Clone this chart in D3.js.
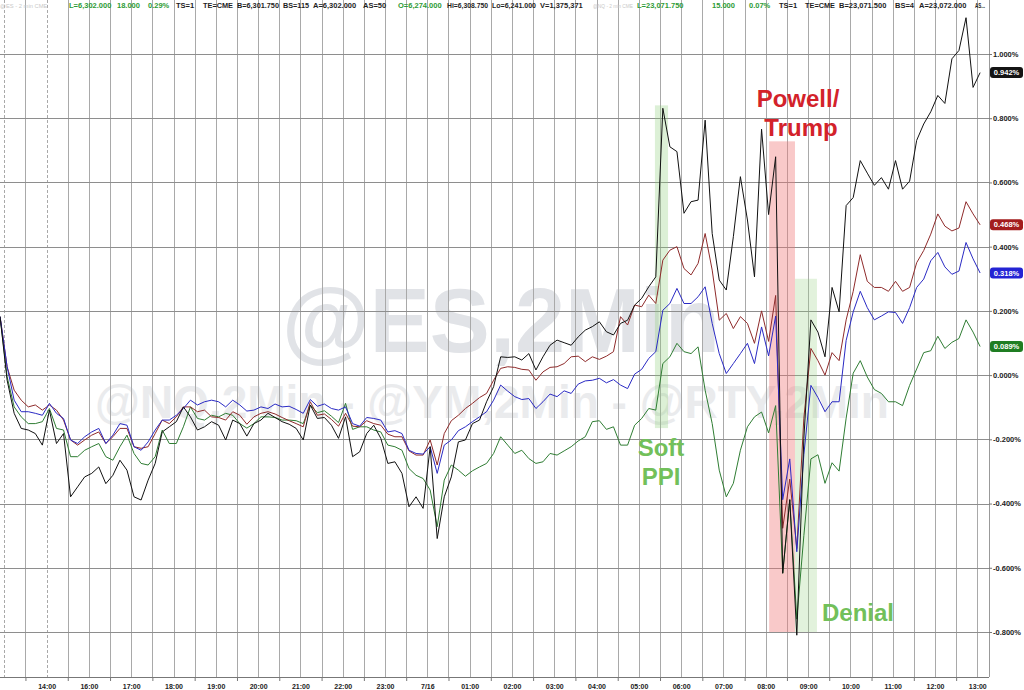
<!DOCTYPE html>
<html><head><meta charset="utf-8">
<script src="https://cdn.jsdelivr.net/npm/d3@7"></script>
<style>
html,body{margin:0;padding:0;background:#fff;}
svg{display:block;font-family:"Liberation Sans",Arial,sans-serif;}
</style></head><body>
<svg id="chart" width="1024" height="690"></svg>
<script>
// ---------- data ----------
const hourLabels = ["14:00","16:00","17:00","18:00","19:00","20:00","21:00","22:00","23:00","7/16",
  "01:00","02:00","03:00","04:00","05:00","06:00","07:00","08:00","09:00","10:00","11:00","12:00","13:00"];
// bar times, in hour-slots after 14:00 (10-minute samples)
const barCount = 140;
const barTimes = d3.range(barCount).map(i => -1.1 + i / 6);

const nqSeries = [0.182,-0.016,-0.119,-0.166,-0.171,-0.182,-0.218,-0.109,-0.213,-0.182,
 -0.379,-0.348,-0.317,-0.306,-0.286,-0.338,-0.312,-0.265,-0.296,-0.379,
 -0.389,-0.327,-0.275,-0.177,-0.161,-0.145,-0.099,-0.130,-0.171,-0.161,
 -0.145,-0.156,-0.202,-0.140,-0.151,-0.190,-0.151,-0.140,-0.119,-0.132,
 -0.145,-0.153,-0.166,-0.202,-0.093,-0.135,-0.132,-0.156,-0.197,-0.130,
 -0.254,-0.239,-0.182,-0.156,-0.197,-0.275,-0.270,-0.306,-0.410,-0.379,
 -0.415,-0.223,-0.509,-0.379,-0.317,-0.208,-0.202,-0.151,-0.140,-0.083,
 -0.036,0.057,0.055,0.057,0.047,0.067,0.016,0.057,0.093,0.109,
 0.101,0.093,0.119,0.140,0.151,0.166,0.135,0.125,0.161,0.171,
 0.218,0.239,0.275,0.306,0.831,0.711,0.696,0.504,0.540,0.545,
 0.794,0.441,0.296,0.265,0.431,0.618,0.483,0.306,0.766,0.500,
 0.680,-0.617,-0.388,-0.810,-0.197,0.172,0.134,0.057,0.273,0.197,
 0.528,0.553,0.668,0.629,0.591,0.615,0.579,0.668,0.579,0.604,
 0.731,0.782,0.820,0.871,0.846,0.985,1.011,1.113,0.896,0.942];

const esSeries = [0.182,0.026,-0.047,-0.078,-0.099,-0.093,-0.109,-0.093,-0.109,-0.140,
 -0.202,-0.218,-0.202,-0.187,-0.177,-0.213,-0.192,-0.166,-0.166,-0.223,
 -0.228,-0.223,-0.182,-0.140,-0.151,-0.130,-0.099,-0.099,-0.114,-0.109,
 -0.130,-0.132,-0.140,-0.114,-0.125,-0.153,-0.130,-0.119,-0.114,-0.121,
 -0.132,-0.142,-0.151,-0.161,-0.083,-0.125,-0.121,-0.138,-0.159,-0.119,
 -0.159,-0.161,-0.142,-0.151,-0.156,-0.184,-0.192,-0.192,-0.236,-0.249,
 -0.249,-0.202,-0.280,-0.182,-0.142,-0.125,-0.104,-0.088,-0.070,-0.057,
 -0.016,0.021,0.026,0.024,0.018,0.016,-0.016,0.010,0.024,0.026,
 0.036,0.057,0.059,0.042,0.057,0.049,0.059,0.073,0.182,0.156,
 0.218,0.213,0.249,0.223,0.358,0.389,0.400,0.332,0.312,0.348,
 0.441,0.327,0.171,0.192,0.145,0.182,0.161,0.099,0.200,0.105,
 0.248,-0.477,-0.324,-0.540,-0.134,0.083,0.045,0.000,0.070,0.045,
 0.172,0.261,0.375,0.292,0.273,0.273,0.261,0.292,0.261,0.273,
 0.350,0.388,0.439,0.502,0.464,0.449,0.458,0.540,0.502,0.468];

const ymSeries = [0.182,0.026,-0.078,-0.114,-0.114,-0.119,-0.125,-0.088,-0.119,-0.135,
 -0.202,-0.213,-0.192,-0.177,-0.166,-0.213,-0.187,-0.151,-0.156,-0.223,
 -0.234,-0.208,-0.171,-0.140,-0.140,-0.125,-0.104,-0.078,-0.093,-0.083,
 -0.078,-0.083,-0.099,-0.078,-0.093,-0.112,-0.109,-0.099,-0.104,-0.090,
 -0.099,-0.097,-0.107,-0.119,-0.076,-0.097,-0.090,-0.104,-0.109,-0.099,
 -0.151,-0.159,-0.132,-0.135,-0.140,-0.177,-0.173,-0.182,-0.234,-0.244,
 -0.246,-0.223,-0.306,-0.218,-0.202,-0.173,-0.161,-0.145,-0.130,-0.114,
 -0.078,-0.031,-0.050,-0.067,-0.076,-0.073,-0.104,-0.083,-0.059,-0.067,
 -0.049,-0.057,-0.028,-0.018,-0.016,-0.010,-0.024,-0.014,-0.031,-0.042,
 0.003,0.018,0.052,0.073,0.202,0.223,0.270,0.223,0.223,0.244,
 0.275,0.161,0.067,0.005,0.036,0.067,0.099,0.036,0.150,0.060,
 0.184,-0.388,-0.261,-0.550,-0.248,-0.032,-0.070,-0.114,-0.083,-0.083,
 0.108,0.197,0.261,0.210,0.172,0.184,0.197,0.195,0.161,0.210,
 0.273,0.299,0.356,0.382,0.337,0.314,0.324,0.413,0.362,0.318];

const rtySeries = [0.182,-0.005,-0.099,-0.130,-0.151,-0.151,-0.145,-0.104,-0.166,-0.171,
 -0.254,-0.254,-0.234,-0.223,-0.213,-0.254,-0.265,-0.223,-0.187,-0.244,
 -0.275,-0.280,-0.254,-0.171,-0.213,-0.213,-0.161,-0.099,-0.135,-0.140,
 -0.125,-0.130,-0.119,-0.125,-0.151,-0.165,-0.151,-0.130,-0.130,-0.132,
 -0.140,-0.140,-0.142,-0.151,-0.093,-0.117,-0.111,-0.128,-0.148,-0.088,
 -0.169,-0.161,-0.161,-0.171,-0.177,-0.218,-0.223,-0.234,-0.291,-0.312,
 -0.322,-0.358,-0.472,-0.327,-0.280,-0.296,-0.315,-0.298,-0.286,-0.275,
 -0.244,-0.192,-0.218,-0.244,-0.234,-0.260,-0.275,-0.270,-0.244,-0.249,
 -0.236,-0.223,-0.205,-0.192,-0.145,-0.142,-0.169,-0.161,-0.218,-0.218,
 -0.156,-0.135,-0.104,-0.109,0.036,0.057,0.099,0.073,0.067,0.088,
 -0.047,-0.151,-0.296,-0.379,-0.337,-0.234,-0.161,-0.130,-0.115,-0.180,
 -0.095,-0.617,-0.388,-0.760,-0.500,-0.261,-0.248,-0.337,-0.273,-0.299,
 -0.134,0.006,0.045,-0.006,-0.045,-0.057,-0.083,-0.083,-0.095,-0.032,
 0.019,0.070,0.076,0.121,0.083,0.102,0.114,0.172,0.134,0.089];

const yTickValues = [-0.8,-0.6,-0.4,-0.2,0,0.2,0.4,0.6,0.8,1.0];

// header quote line
const headerText = ["@ES - 2 min CME","L=6,302.000","18.000","0.29%","TS=1","TE=CME","B=6,301.750","BS=115",
  "A=6,302.000","AS=50","O=6,274.000","Hi=6,308.750","Lo=6,241.000","V=1,375,371","@NQ - 2 min CME",
  "L=23,071.750","15.000","0.07%","TS=1","TE=CME","B=23,071.500","BS=4","A=23,072.000","AS..."];
const headerTone = ["f","g","g","g","k","k","k","k","k","k","g","k","k","k","f","g","g","g","k","k","k","k","k","k"];

// ---------- layout ----------
const W = 1024, H = 690;
const plotRight = 989, axisY = 677;
const svg = d3.select("#chart");
svg.append("rect").attr("width", W).attr("height", H).attr("fill", "#fff");

const x = d3.scaleLinear().domain([0, 22]).range([46.6, 977.3]);
const y = d3.scaleLinear().domain([-0.8, 1.0]).range([632, 54]);

// watermarks
svg.append("text").attr("x", 501).attr("y", 352).attr("text-anchor", "middle")
  .attr("font-size", 90).attr("font-weight", "bold").attr("fill", "#e1e3e7").text("@ES,2Min");
svg.append("text").attr("x", 492).attr("y", 418).attr("text-anchor", "middle")
  .attr("font-size", 46).attr("font-weight", "bold").attr("fill", "#eaebed").text("@NQ,2Min - @YM,2Min - @RTY,2Min");

// vertical grid (every half hour)
const halfSlots = d3.range(-2, 45).map(h => h / 2);
const vGrid = svg.append("g").call(d3.axisBottom(x).tickValues(halfSlots).tickSize(axisY).tickFormat(""));
vGrid.select(".domain").remove();
vGrid.selectAll(".tick line").attr("stroke", "#a9a9a9").attr("stroke-width", 1)
  .attr("stroke-dasharray", d => (d === -1 || d === 0) ? "3,2" : null);
vGrid.selectAll(".tick").attr("shape-rendering", "crispEdges");

// horizontal grid
const hGrid = svg.append("g").attr("transform", `translate(${plotRight},0)`)
  .call(d3.axisLeft(y).tickValues(yTickValues).tickSize(plotRight).tickFormat(""));
hGrid.select(".domain").remove();
hGrid.selectAll(".tick line").attr("stroke", "#8e8e8e").attr("shape-rendering", "crispEdges");

// plot border right & bottom axis line
svg.append("line").attr("x1", plotRight + 0.5).attr("x2", plotRight + 0.5).attr("y1", 0).attr("y2", axisY)
  .attr("stroke", "#999");
svg.append("line").attr("x1", 0).attr("x2", plotRight).attr("y1", axisY + 0.5).attr("y2", axisY + 0.5)
  .attr("stroke", "#777");

// event bands (time in hour-slots, value range in %)
const bands = [
  {t0: 14.38, t1: 14.69, v0: 0.84, v1: -0.165, fill: "rgba(140,205,120,0.30)"},
  {t0: 17.08, t1: 17.69, v0: 0.728, v1: -0.8, fill: "rgba(240,120,120,0.40)"},
  {t0: 17.69, t1: 18.21, v0: 0.30, v1: -0.8, fill: "rgba(150,210,130,0.28)"}
];
svg.append("g").selectAll("rect").data(bands).join("rect")
  .attr("x", d => x(d.t0)).attr("width", d => x(d.t1) - x(d.t0))
  .attr("y", d => y(d.v0)).attr("height", d => y(d.v1) - y(d.v0))
  .attr("fill", d => d.fill);

// series lines
const series = [
  {name: "RTY", values: rtySeries, color: "#2f7d33", label: "#1f7d22"},
  {name: "ES", values: esSeries, color: "#8f2b2b", label: "#a31d1d"},
  {name: "YM", values: ymSeries, color: "#2a2ac4", label: "#2424d4"},
  {name: "NQ", values: nqSeries, color: "#111111", label: "#141414"}
];
const line = d3.line().x((d, i) => x(barTimes[i])).y(d => y(d));
svg.append("g").selectAll("path").data(series).join("path")
  .attr("d", d => line(d.values)).attr("fill", "none")
  .attr("stroke", d => d.color).attr("stroke-width", 1).attr("stroke-linejoin", "round");

// annotations
const ann = svg.append("g").attr("font-weight", "bold").attr("text-anchor", "middle").attr("font-size", 24);
ann.append("text").attr("x", 798).attr("y", 107).attr("fill", "#d3222a").text("Powell/");
ann.append("text").attr("x", 801).attr("y", 136).attr("fill", "#d3222a").text("Trump");
ann.append("text").attr("x", 661).attr("y", 456).attr("fill", "#72c05a").text("Soft");
ann.append("text").attr("x", 661).attr("y", 485).attr("fill", "#72c05a").text("PPI");
ann.append("text").attr("x", 858).attr("y", 621).attr("fill", "#72c05a").text("Denial");

// bottom axis: labels
const xAxis = svg.append("g").attr("transform", `translate(0,${axisY})`)
  .call(d3.axisBottom(x).tickValues(d3.range(hourLabels.length)).tickSize(0).tickPadding(7)
    .tickFormat(i => hourLabels[i]));
xAxis.select(".domain").remove();
xAxis.selectAll("text").attr("font-size", 7).attr("font-weight", "bold").attr("fill", "#222")
  .attr("font-family", "'Liberation Sans',Arial,sans-serif");
// small ticks between labels
const xMinor = svg.append("g").attr("transform", `translate(0,${axisY})`)
  .call(d3.axisBottom(x).tickValues(d3.range(-1, 22).map(h => h + 0.5)).tickSize(4).tickFormat(""));
xMinor.select(".domain").remove();
xMinor.selectAll("line").attr("stroke", "#777");

// right axis
const yAxis = svg.append("g").attr("transform", `translate(${plotRight},0)`)
  .call(d3.axisRight(y).tickValues(yTickValues).tickSize(3).tickPadding(1)
    .tickFormat(v => v.toFixed(3) + "%"));
yAxis.select(".domain").remove();
yAxis.selectAll("line").attr("stroke", "#777");
yAxis.selectAll("text").attr("font-size", 7.5).attr("font-weight", "bold").attr("fill", "#222")
  .attr("font-family", "'Liberation Sans',Arial,sans-serif");

// last-value labels
const lastG = svg.append("g");
series.forEach(s => {
  const v = s.values[s.values.length - 1];
  const g = lastG.append("g").attr("transform", `translate(${plotRight + 1},${y(v)})`);
  g.append("rect").attr("x", 0).attr("y", -5.5).attr("width", 33).attr("height", 11).attr("rx", 3)
    .attr("fill", s.label);
  g.append("text").attr("x", 16.5).attr("y", 0).attr("dy", "0.35em").attr("text-anchor", "middle")
    .attr("font-size", 7.5).attr("font-weight", "bold").attr("fill", "#fff").text(v.toFixed(3) + "%");
});

// header quote line, laid out left to right at the reference positions
const headerX = [0,69,117,148,176,203,237,283,313,363,398,447,492,540,593,637,712,749,779,805,839,895,919,975];
const toneColor = {f: "#c9c9c9", g: "#2e9b35", k: "#1e1e1e"};
const hdr = svg.append("g").selectAll("text").data(headerText).join("text")
  .attr("x", (d, i) => headerX[i]).attr("y", 8)
  .attr("font-size", (d, i) => headerTone[i] === "f" ? 5.8 : 7.5)
  .attr("font-weight", (d, i) => headerTone[i] === "f" ? "normal" : "bold")
  .attr("fill", (d, i) => toneColor[headerTone[i]]).text(d => d);
hdr.each(function(d, i) {
  const next = i + 1 < headerX.length ? headerX[i + 1] : plotRight;
  const room = next - headerX[i] - 4;
  const len = this.getComputedTextLength();
  if (len > room) d3.select(this).attr("textLength", room).attr("lengthAdjust", "spacingAndGlyphs");
});
</script>
</body></html>
